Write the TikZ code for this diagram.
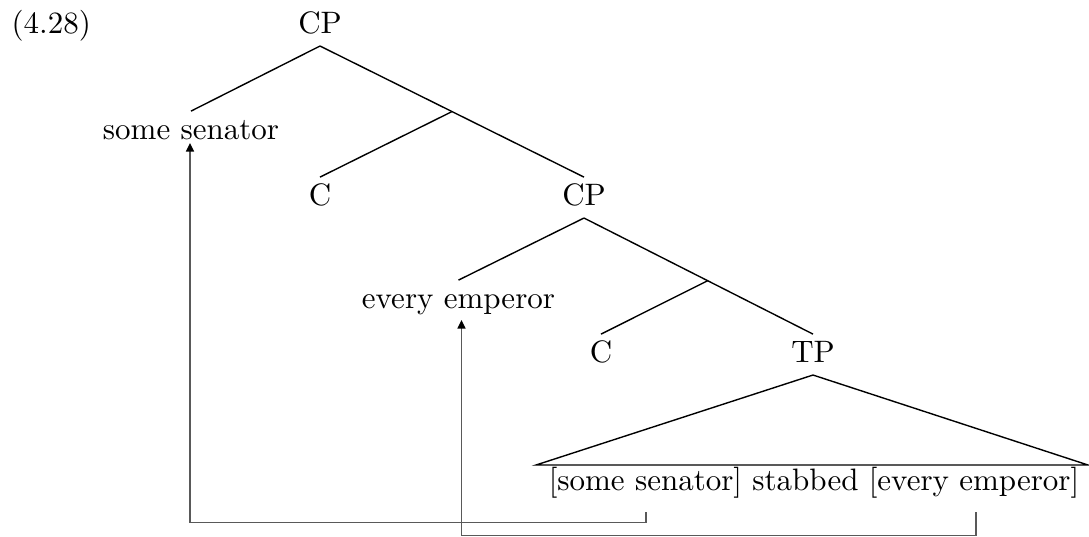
\documentclass[tikz,border=0pt]{standalone}
\usetikzlibrary{arrows.meta,calc}
\begin{document}
\begin{tikzpicture}[x=0.3226pt,y=-0.3226pt,
  lbl/.style={inner sep=0pt,outer sep=0pt,text height=9pt,text depth=4.2pt,anchor=base},
  edge/.style={line width=0.45pt},
  mv/.style={line width=0.45pt,draw=black!65,-{Triangle[length=2.8pt,width=2.6pt,fill=black,color=black]}}]
\useasboundingbox (0,0) rectangle (1089,536);
\node[inner sep=0pt,anchor=base west] (ex) at (11,33) {(4.28)};
\node[lbl] (cp1) at (320,33) {CP};
\node[lbl] (ss) at (191,139) {some senator};
\node[lbl] (c1) at (320,205) {C};
\node[lbl] (cp2) at (584,205) {CP};
\node[lbl] (ee) at (458.5,308) {every emperor};
\node[lbl] (c2) at (601,362) {C};
\node[lbl] (tp) at (813,362) {TP};
\node[lbl] (bot) at (814,490) {[some senator] stabbed [every emperor]};
% tree edges
\draw[edge] (cp1.south) -- (ss.north);
\draw[edge] (cp1.south) -- (cp2.north);
\coordinate (b1) at ($(cp1.south)!0.5!(cp2.north)$);
\draw[edge] (b1) -- (c1.north);
\draw[edge] (cp2.south) -- (ee.north);
\draw[edge] (cp2.south) -- (tp.north);
\coordinate (b2) at ($(cp2.south)!0.54!(tp.north)$);
\draw[edge] (b2) -- (c2.north);
% roof
\coordinate (rl) at (536,465);
\coordinate (rr) at (1088,465);
\draw[edge] (rl) -- (tp.south) -- (rr) -- cycle;
% movement arrows
\coordinate (d1) at (646,512);
\coordinate (t1) at (190,143);
\draw[mv] (d1) -- ++(0,10.7) -| (t1);
\coordinate (d2) at (976,512);
\coordinate (t2) at (461.5,320);
\draw[mv] (d2) -- ++(0,23.5) -| (t2);
\end{tikzpicture}
\end{document}
